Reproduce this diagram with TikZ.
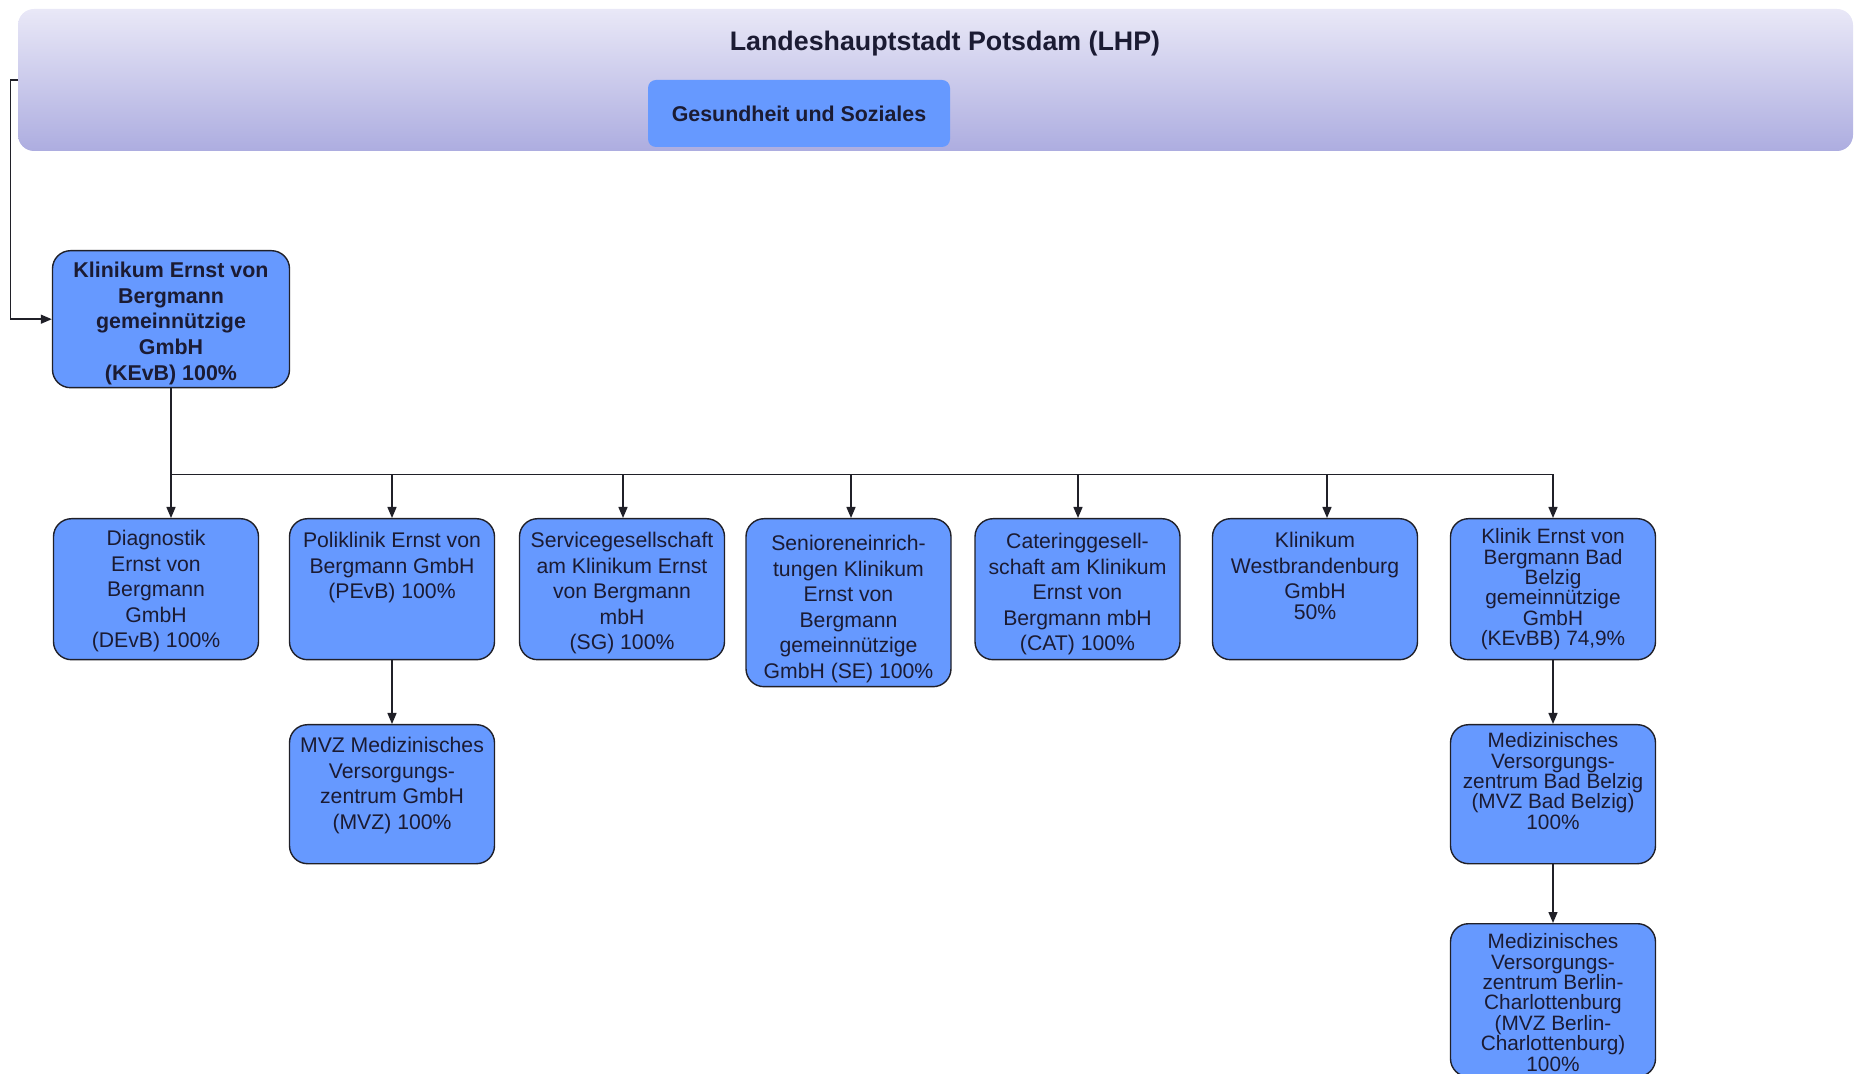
\documentclass[tikz,border=0pt]{standalone}
\usepackage{fontspec}
\setmainfont{Liberation Sans}
\usetikzlibrary{arrows.meta,calc}
\definecolor{Ink}{HTML}{1B1B33}
\definecolor{Edge}{HTML}{202028}
\definecolor{UnitBlue}{HTML}{6699FF}
\definecolor{BannerTop}{HTML}{E9E8F7}
\definecolor{BannerBottom}{HTML}{ADADE0}
\newcommand{\orgbox}[4][98pt]{\parbox[c][#2][t]{#1}{\centering\rule{0pt}{#3}#4}}
\tikzset{
  unit/.style={draw=Edge,fill=UnitBlue,line width=0.7pt,rounded corners=9pt,
    inner xsep=2.25pt,inner ysep=0pt,anchor=north,text=Ink,
    font=\fontsize{10.6}{12.75}\selectfont},
  tight/.style={font=\fontsize{10.4}{10.2}\selectfont},
  link/.style={draw=Edge,line width=0.7pt,-{Triangle[length=5.5pt,width=4.5pt]}},
}

\begin{document}
\begin{tikzpicture}[x=0.5pt,y=-0.5pt]
  \useasboundingbox (0,0) rectangle (1854,1074);
  \node[top color=BannerTop,bottom color=BannerBottom,rounded corners=8pt,
    minimum width=917.5pt,minimum height=71pt,inner sep=0pt] (lhp) at (935.5,80) {};
  \node[text=Ink,font=\fontsize{13.4}{16}\selectfont\bfseries] (lhptitle)
    at (945,44) {Landeshauptstadt Potsdam (LHP)};
  \node[fill=UnitBlue,rounded corners=4pt,minimum width=151pt,minimum height=33.5pt,
    text=Ink,font=\fontsize{10.7}{13}\selectfont\bfseries] (gus)
    at (799,113.5) {Gesundheit und Soziales};

  \node[unit,font=\fontsize{10.7}{12.9}\selectfont\bfseries] (kevb) at (171,250)
    {\orgbox[114pt]{68.5pt}{13.3pt}{Klinikum Ernst von\\Bergmann\\gemeinnützige\\GmbH\\(KEvB) 100\%}};

  \node[unit] (devb) at (156,518)
    {\orgbox{70.5pt}{13.5pt}{Diagnostik\\Ernst von\\Bergmann\\GmbH\\(DEvB) 100\%}};
  \node[unit] (pevb) at (392,518)
    {\orgbox{70.5pt}{14.5pt}{Poliklinik Ernst von\\Bergmann GmbH\\(PEvB) 100\%}};
  \node[unit] (sg) at (622,518)
    {\orgbox{70.5pt}{14.5pt}{Servicegesellschaft\\am Klinikum Ernst\\von Bergmann\\mbH\\(SG) 100\%}};
  \node[unit] (se) at (848.5,518)
    {\orgbox{84pt}{16pt}{Senioreneinrich-\\tungen Klinikum\\Ernst von\\Bergmann\\gemeinnützige\\GmbH (SE) 100\%}};
  \node[unit] (cat) at (1077.5,518)
    {\orgbox{70.5pt}{15pt}{Cateringgesell-\\schaft am Klinikum\\Ernst von\\Bergmann mbH\\(CAT) 100\%}};
  \node[unit] (kwb) at (1315,518)
    {\orgbox{70.5pt}{14.5pt}{Klinikum\\Westbrandenburg\\GmbH\\[-2.5pt]50\%}};
  \node[unit,tight] (kevbb) at (1553,518)
    {\orgbox{70.5pt}{12.5pt}{Klinik Ernst von\\Bergmann Bad\\Belzig\\gemeinnützige\\GmbH\\(KEvBB) 74,9\%}};

  \node[unit] (mvz) at (392,724)
    {\orgbox{69.5pt}{14pt}{MVZ Medizinisches\\Versorgungs-\\zentrum GmbH\\(MVZ) 100\%}};
  \node[unit,tight] (mvzbb) at (1553,724)
    {\orgbox{69.5pt}{11.5pt}{Medizinisches\\Versorgungs-\\zentrum Bad Belzig\\(MVZ Bad Belzig)\\100\%}};
  \node[unit,tight] (mvzbc) at (1553,923)
    {\orgbox{76.5pt}{12.5pt}{Medizinisches\\Versorgungs-\\zentrum Berlin-\\Charlottenburg\\(MVZ Berlin-\\Charlottenburg)\\100\%}};

  \draw[link] (lhp.west) -- ++(-7,0) |- (kevb.west);
  \draw[link] (kevb.south) -- (kevb.south |- devb.north);
  \foreach \t/\dx in {pevb/0,sg/1,se/2.5,cat/0.5,kwb/12,kevbb/0}
    \draw[link] (kevb.south) -- ++(0,86) -| ($(\t.north)+(\dx,0)$);
  \draw[link] (pevb.south) -- (mvz.north);
  \draw[link] (kevbb.south) -- (mvzbb.north);
  \draw[link] (mvzbb.south) -- (mvzbc.north);
\end{tikzpicture}
\end{document}
